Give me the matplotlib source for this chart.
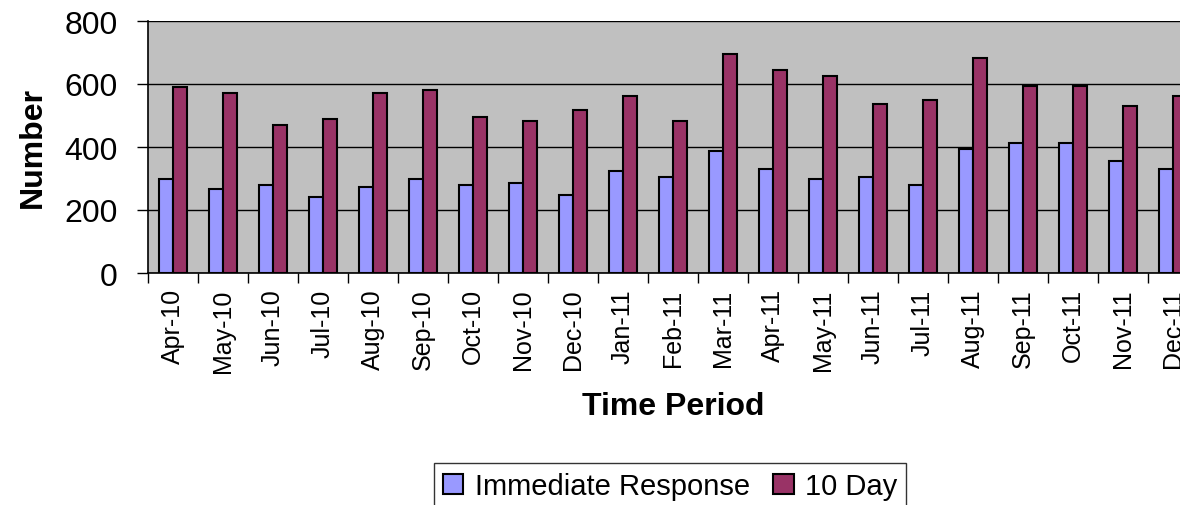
import matplotlib
matplotlib.use("Agg")
import matplotlib.pyplot as plt
import numpy as np

# Monthly counts
months = ["Apr-10", "May-10", "Jun-10", "Jul-10", "Aug-10", "Sep-10", "Oct-10",
          "Nov-10", "Dec-10", "Jan-11", "Feb-11", "Mar-11", "Apr-11", "May-11",
          "Jun-11", "Jul-11", "Aug-11", "Sep-11", "Oct-11", "Nov-11", "Dec-11"]
immediate = [300, 267, 279, 242, 273, 300, 279, 285, 248, 325, 305, 388, 331, 300,
             305, 279, 395, 414, 414, 356, 331]
ten_day = [592, 573, 471, 489, 573, 580, 496, 484, 516, 561, 484, 695, 644, 625,
           535, 548, 682, 593, 593, 529, 561]

plt.rcParams["font.family"] = ["Liberation Sans", "DejaVu Sans"]

fig = plt.figure(figsize=(11.8, 5.06), dpi=100)
ax = fig.add_axes([148 / 1180, 232 / 506, 1050 / 1180, 252 / 506])
ax.set_facecolor("#C0C0C0")

x = np.arange(len(months))
w = 0.28
ax.bar(x - w / 2, immediate, w, color="#9999FF", edgecolor="black",
       linewidth=1.5, label="Immediate Response", zorder=3)
ax.bar(x + w / 2, ten_day, w, color="#993366", edgecolor="black",
       linewidth=1.5, label="10 Day", zorder=3)

ax.set_xlim(-0.5, len(months) - 0.5)
ax.set_ylim(0, 800)
ax.set_yticks([0, 200, 400, 600, 800])
ax.yaxis.grid(True, color="black", linewidth=1.0, zorder=1)
ax.set_axisbelow(True)

ax.set_xticks(x)
ax.set_xticklabels(months, rotation=90, fontsize=18)
ax.set_xticks(np.arange(len(months) + 1) - 0.5, minor=True)
ax.tick_params(axis="x", which="major", length=0, pad=11)
ax.tick_params(axis="x", which="minor", length=7, width=1, direction="out")
ax.tick_params(axis="y", length=8, width=1, direction="out", pad=14, labelsize=23)

for side in ["top", "right"]:
    ax.spines[side].set_visible(False)
ax.spines["left"].set_linewidth(1.2)
ax.spines["bottom"].set_linewidth(1.2)

ax.set_ylabel("Number", fontsize=23, fontweight="bold", labelpad=12)
fig.text(673 / 1180, 1 - 407 / 506, "Time Period", fontsize=23,
         fontweight="bold", ha="center", va="center")

leg = fig.legend(loc="center", bbox_to_anchor=(670 / 1180, 1 - 487 / 506),
                 ncol=2, fontsize=21, frameon=True, fancybox=False,
                 handlelength=0.7, handleheight=0.7, handletextpad=0.4,
                 columnspacing=0.8, borderpad=0.3)
leg.get_frame().set_edgecolor("black")
leg.get_frame().set_linewidth(1.0)

fig.savefig("out.png", dpi=100)
